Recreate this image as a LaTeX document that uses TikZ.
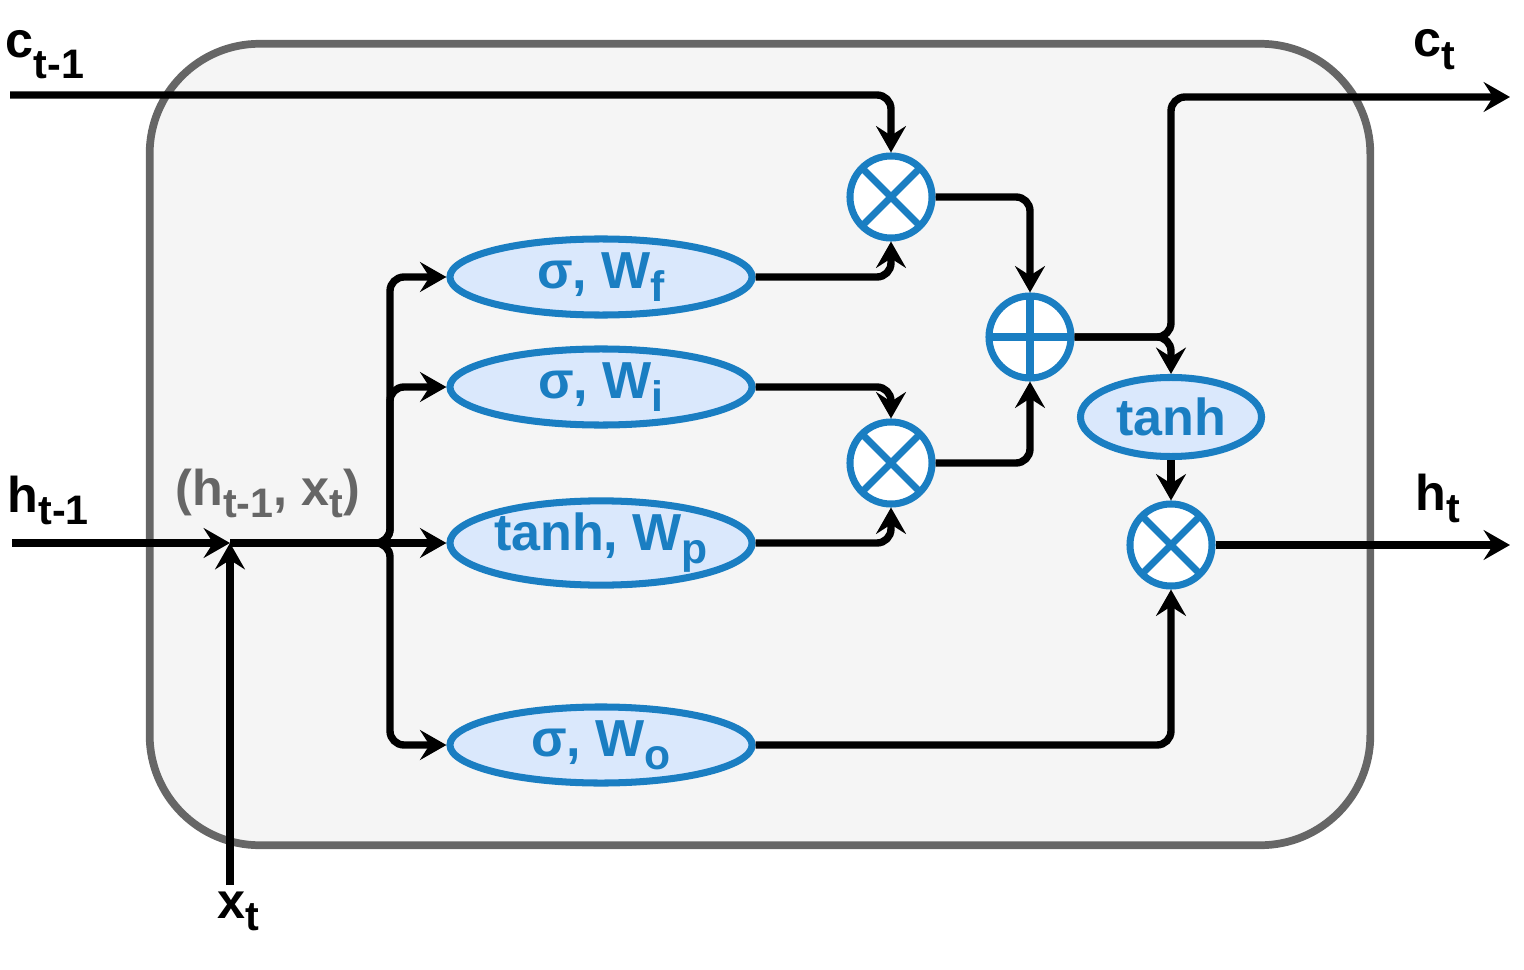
\documentclass[tikz,border=0pt]{standalone}
\usepackage{fontspec}
\setmainfont{Liberation Sans}
\usetikzlibrary{positioning,arrows.meta,shapes.geometric}

\definecolor{gateblue}{RGB}{26,126,194}
\definecolor{gatefill}{RGB}{218,232,252}
\definecolor{cellgray}{RGB}{102,102,102}
\definecolor{cellfill}{RGB}{245,245,245}

\newcommand{\lsub}[2][0.25em]{\raisebox{-#1}{\scalebox{0.82}{#2}}}

\begin{document}
\begin{tikzpicture}[
  x=0.01cm, y=-0.01cm,
  font=\bfseries,
  cellbox/.style={
    rectangle,
    rounded corners=1.1cm,
    draw=cellgray,
    fill=cellfill,
    line width=2.2pt,
    minimum width=12.2cm,
    minimum height=8.01cm
  },
  gate/.style={
    ellipse,
    draw=gateblue, fill=gatefill, line width=2pt,
    minimum width=3.02cm, minimum height=0.76cm,
    inner sep=0pt, text=gateblue,
    font=\fontsize{14.8}{16}\selectfont\bfseries
  },
  op/.style={circle, draw=gateblue, fill=white, line width=2pt, minimum size=0.82cm, inner sep=0pt},
  mulop/.style={op, path picture={
    \draw[gateblue, line width=2pt]
      (path picture bounding box.south west) -- (path picture bounding box.north east)
      (path picture bounding box.north west) -- (path picture bounding box.south east);}},
  addop/.style={op, path picture={
    \draw[gateblue, line width=2pt]
      (path picture bounding box.north) -- (path picture bounding box.south)
      (path picture bounding box.west) -- (path picture bounding box.east);}},
  arr/.style={-{Stealth[length=7.5pt, width=8.5pt, inset=2.7pt]}, line width=2.1pt, rounded corners=4pt},
  lbl/.style={font=\fontsize{14.3}{16}\selectfont\bfseries, anchor=base west, inner sep=0pt}
]
\useasboundingbox (0,0) rectangle (1524,970);

% --- Cell ---
\node[cellbox] (cell) at (760,444.5) {};

% --- Gates ---
\node[gate] (wf) at (601,277) {\makebox[2cm]{σ, W\lsub{f}}};
\node[gate] (wi) at (601,387) {\makebox[2cm]{σ, W\lsub{i}}};
\node[gate] (wp) at (601,543) {\makebox[2cm]{tanh, W\lsub{p}}};
\node[gate] (wo) at (601,745) {\makebox[2cm]{σ, W\lsub{o}}};
\node[gate, minimum width=1.81cm, minimum height=0.79cm] (act) at (1171,417) {\makebox[1cm]{tanh}};

% --- Pointwise ops ---
\node[mulop] (m1) at (891,197) {};
\node[mulop] (m2) at (891,463) {};
\node[addop] (sum) at (1030,337) {};
\node[mulop] (m3) at (1171,545) {};

% --- Labels ---
\node[lbl] (cprev) at (5,58) {c\lsub[0.4em]{t-1}};
\node[lbl] (hprev) at (7,512) {h\lsub{t-1}};
\node[lbl] (xin) at (217,918) {x\lsub{t}};
\node[lbl] (cnext) at (1413,57) {c\lsub{t}};
\node[lbl] (hnext) at (1415,510) {h\lsub{t}};
\node[lbl, text=cellgray] (concat) at (175,505) {(h\lsub{t-1}, x\lsub{t})};

% --- Ends ---
\coordinate (cstart) at (10,95);
\coordinate (hstart) at (12,543);
\coordinate (xstart) at (230,885);
\coordinate (join) at (230,543);
\coordinate (split) at (390,543);
\coordinate (cend) at (1510,97);
\coordinate (hend) at (1510,545);

% --- Inputs ---
\draw[arr] (cstart) -| (m1.north);
\draw[arr] (hstart) -- (join);
\draw[arr] (xstart) -- (join);
\draw[arr] (join) -| (split |- wf.west) -- (wf.west);
\draw[arr] (join) -| (split |- wi.west) -- (wi.west);
\draw[arr] (join) -- (wp.west);
\draw[arr] (join) -| (split |- wo.west) -- (wo.west);

% --- Gates to ops ---
\draw[arr] (wf.east) -| (m1.south);
\draw[arr] (wi.east) -| (m2.north);
\draw[arr] (wp.east) -| (m2.south);
\draw[arr] (wo.east) -| (m3.south);
\draw[arr] (m1.east) -| (sum.north);
\draw[arr] (m2.east) -| (sum.south);

% --- Outputs ---
\draw[arr] (sum.east) -| (act.north);
\draw[arr] (sum.east) -| (act.north |- cend) -- (cend);
\draw[arr] (act.south) -- (m3.north);
\draw[arr] (m3.east) -- (hend);

\end{tikzpicture}
\end{document}
